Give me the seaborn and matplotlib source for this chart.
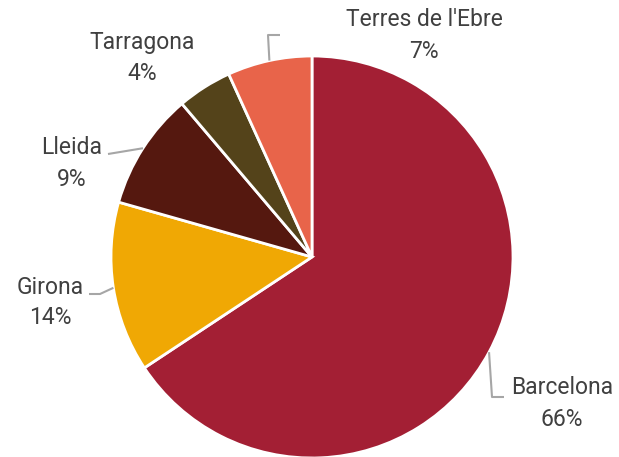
import numpy as np
import matplotlib
matplotlib.use("Agg")
import matplotlib.pyplot as plt
import seaborn as sns

regions = ["Barcelona", "Girona", "Lleida", "Tarragona", "Terres de l'Ebre"]
shares = [65.7, 13.7, 9.4, 4.4, 6.8]
colors = ["#A31F34", "#F0A804", "#55180F", "#54431A", "#E8644A"]

sns.set_theme(style="white")
plt.rcParams['font.family'] = ['Roboto', 'DejaVu Sans']

W, H = 619, 457
fig = plt.figure(figsize=(W / 100, H / 100), dpi=100)
ax = fig.add_axes([0, 0, 1, 1])

cx, cy, R = 312, H - 257, 201
wedges, _ = ax.pie(shares, colors=colors, startangle=90, counterclock=False,
                   center=(cx, cy), radius=R, frame=True,
                   wedgeprops=dict(edgecolor='white', linewidth=2))
ax.set_xlim(0, W)
ax.set_ylim(0, H)
ax.set_aspect('equal')
ax.axis('off')

# label layout: (label center x, first-line center y in px, leader path points after edge in px)
layout = {
    "Barcelona": ((562, 388), [(492, 397), (504, 397)]),
    "Girona": ((50, 287), [(100, 294), (89, 294)]),
    "Lleida": ((72, 148), [(108, 154)]),
    "Tarragona": ((142, 43), None),
    "Terres de l'Ebre": ((424, 20), [(268, 35), (280, 35)]),
}

txt_color = "#404040"
line_color = "#A6A6A6"
total = sum(shares)
for w, name, s in zip(wedges, regions, shares):
    mid = np.deg2rad((w.theta1 + w.theta2) / 2)
    ex, ey = cx + R * np.cos(mid), cy + R * np.sin(mid)
    (lx, ly), path = layout[name]
    if path:
        xs = [ex] + [p[0] for p in path]
        ys = [ey] + [H - p[1] for p in path]
        ax.plot(xs, ys, color=line_color, lw=1.5, solid_capstyle='butt', zorder=1)
    ax.text(lx, H - ly, name, ha='center', va='center', fontsize=16.5, color=txt_color)
    ax.text(lx, H - ly - 31, f"{100 * s / total:.0f}%", ha='center', va='center',
            fontsize=16.5, color=txt_color)

fig.savefig("out.png", dpi=100)
